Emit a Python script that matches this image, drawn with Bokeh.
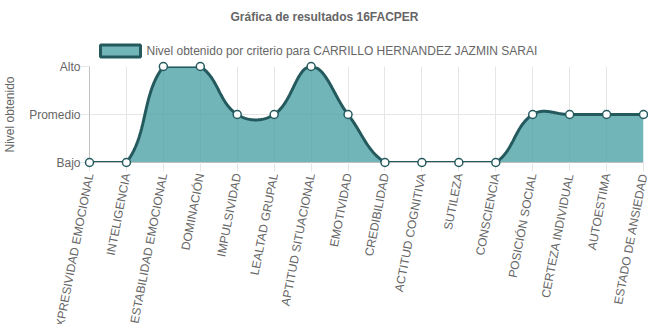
import numpy as np
from bokeh.plotting import figure
from bokeh.core.properties import value
from bokeh.models import ColumnDataSource, FixedTicker, Range1d
from bokeh.embed import file_html
from bokeh.resources import INLINE

# ---------------- data ----------------
categories = ["EXPRESIVIDAD EMOCIONAL", "INTELIGENCIA", "ESTABILIDAD EMOCIONAL",
              "DOMINACIÓN", "IMPULSIVIDAD", "LEALTAD GRUPAL", "APTITUD SITUACIONAL",
              "EMOTIVIDAD", "CREDIBILIDAD", "ACTITUD COGNITIVA", "SUTILEZA",
              "CONSCIENCIA", "POSICIÓN SOCIAL", "CERTEZA INDIVIDUAL", "AUTOESTIMA",
              "ESTADO DE ANSIEDAD"]
levels = [0, 0, 2, 2, 1, 1, 2, 1, 0, 0, 0, 0, 1, 1, 1, 1]
level_labels = ["Bajo", "Promedio", "Alto"]
title_text = "Gráfica de resultados 16FACPER"
series_name = "Nivel obtenido por criterio para CARRILLO HERNANDEZ JAZMIN SARAI"
y_title = "Nivel obtenido"

# ---------------- layout / style ----------------
W, H = 648, 324
L, T = 89, 66
FW, FH = 554, 96
R = W - L - FW
B = H - T - FH
FONT = "Liberation Sans"
TXT = "#666666"
FILL = "#4fa3a8"
LINE = "#245a5e"
GRID = "#e6e6e6"
AXIS = "#bfbfbf"

n = len(categories)
ymax = len(level_labels) - 1
kx = FW / (n - 1)   # pixels per x unit
ky = FH / ymax      # pixels per y unit


def to_data(sx, sy):
    """Canvas pixel position -> data coordinates (for texts placed outside the frame)."""
    return (sx - L) / kx, ymax + (T - sy) / ky


def spline_curve(xs, ys, tension=0.4, steps=40):
    """Smooth curve through the points (Chart.js style spline, in pixel space)."""
    px = np.asarray(xs, float) * kx
    py = np.asarray(ys, float) * ky
    m = len(px)
    cpp = np.zeros((m, 2))
    cpn = np.zeros((m, 2))
    for i in range(m):
        cx, cy = px[i], py[i]
        ax, ay = (px[i - 1], py[i - 1]) if i > 0 else (cx, cy)
        bx, by = (px[i + 1], py[i + 1]) if i < m - 1 else (cx, cy)
        d01 = np.hypot(cx - ax, cy - ay)
        d12 = np.hypot(bx - cx, by - cy)
        tot = d01 + d12
        s01 = d01 / tot if tot > 0 else 0.0
        s12 = d12 / tot if tot > 0 else 0.0
        fa, fb = tension * s01, tension * s12
        cpp[i] = (cx - fa * (bx - ax), cy - fa * (by - ay))
        cpn[i] = (cx + fb * (bx - ax), cy + fb * (by - ay))
    for arr in (cpp, cpn):
        arr[:, 0] = np.clip(arr[:, 0], px.min(), px.max())
        arr[:, 1] = np.clip(arr[:, 1], 0, ymax * ky)
    t = np.linspace(0, 1, steps)
    outx, outy = [px[0]], [py[0]]
    for i in range(m - 1):
        p0 = np.array([px[i], py[i]])
        p1 = cpn[i]
        p2 = cpp[i + 1]
        p3 = np.array([px[i + 1], py[i + 1]])
        tt = t[1:, None]
        pts = ((1 - tt) ** 3) * p0 + 3 * ((1 - tt) ** 2) * tt * p1 + \
            3 * (1 - tt) * tt ** 2 * p2 + tt ** 3 * p3
        outx.extend(pts[:, 0])
        outy.extend(pts[:, 1])
    return np.array(outx) / kx, np.array(outy) / ky


xidx = list(range(n))
cx, cy = spline_curve(xidx, levels)

p = figure(width=W, height=H, x_range=Range1d(0, n - 1), y_range=Range1d(0, ymax),
           output_backend="svg", toolbar_location=None,
           min_border_left=L, min_border_right=R, min_border_top=T, min_border_bottom=B)
p.outline_line_color = None
p.background_fill_color = "white"
p.border_fill_color = "white"

# area fill
area_src = ColumnDataSource(dict(x=list(cx) + [n - 1, 0], y=list(cy) + [0, 0]))
p.patch("x", "y", source=area_src, fill_color=FILL, fill_alpha=0.8, line_alpha=0)

# curve line (clipped to the plot area, like the original)
line_src = ColumnDataSource(dict(x=cx, y=cy))
p.line("x", "y", source=line_src, line_color=LINE, line_width=3)

# points
pt_src = ColumnDataSource(dict(x=xidx, y=levels))
sc = p.scatter("x", "y", source=pt_src, size=8, fill_color="white",
               line_color=LINE, line_width=1.5)
sc.level = "overlay"

# axes
p.xaxis.ticker = FixedTicker(ticks=xidx)
p.xaxis.major_label_overrides = {i: "" for i in xidx}
p.yaxis.ticker = FixedTicker(ticks=list(range(len(level_labels))))
p.yaxis.major_label_overrides = {i: lab for i, lab in enumerate(level_labels)}
for ax in (p.xaxis[0], p.yaxis[0]):
    ax.axis_line_color = AXIS
    ax.major_tick_line_color = GRID
    ax.major_tick_in = 0
    ax.major_tick_out = 9
    ax.minor_tick_line_color = None
    ax.major_label_text_font = FONT
    ax.major_label_text_font_size = "12px"
    ax.major_label_text_color = TXT
p.yaxis.major_label_standoff = 0
p.yaxis.axis_label = y_title
p.yaxis.axis_label_text_font = FONT
p.yaxis.axis_label_text_font_size = "12px"
p.yaxis.axis_label_text_font_style = "normal"
p.yaxis.axis_label_text_color = TXT
p.yaxis.axis_label_standoff = 9
p.xgrid.grid_line_color = GRID
p.ygrid.grid_line_color = GRID

# rotated category labels
lab_src = ColumnDataSource(dict(x=xidx, y=[0] * n, text=categories))
cl = p.text(x="x", y="y", text="text", source=lab_src, y_offset=11,
            angle=79, angle_units="deg", text_align="right",
            text_baseline="middle", text_font=value(FONT), text_font_size="12px",
            text_color=TXT)
cl.level = "overlay"

# title
tx, ty = to_data(W / 2, 16)
title_src = ColumnDataSource(dict(x=[tx], y=[ty], text=[title_text]))
tt = p.text(x="x", y="y", text="text", source=title_src, text_align="center",
            text_baseline="middle", text_font=value(FONT), text_font_size="12px",
            text_font_style="bold", text_color=TXT)
tt.level = "overlay"

# legend (swatch + label)
bx, by = to_data(120, 50.5)
sw_src = ColumnDataSource(dict(x=[bx], y=[by]))
sw = p.rect(x="x", y="y", width=40, height=12, width_units="screen",
            height_units="screen", source=sw_src, fill_color=FILL, fill_alpha=0.8,
            line_color=LINE, line_width=3)
sw.level = "overlay"
lx, ly = to_data(146, 50.5)
leg_src = ColumnDataSource(dict(x=[lx], y=[ly], text=[series_name]))
lt = p.text(x="x", y="y", text="text", source=leg_src, text_align="left",
            text_baseline="middle", text_font=value(FONT), text_font_size="12px",
            text_color=TXT)
lt.level = "overlay"

open("out.html", "w").write(file_html(p, INLINE))
